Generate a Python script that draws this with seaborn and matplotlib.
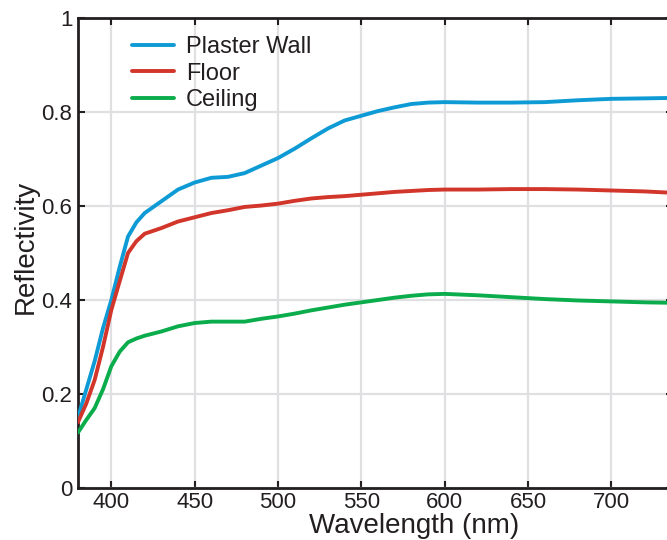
import numpy as np
import pandas as pd
import matplotlib
matplotlib.use("Agg")
import matplotlib.pyplot as plt
import seaborn as sns
from matplotlib.lines import Line2D

wavelength = [380, 385, 390, 395, 400, 405, 410, 415, 420, 430, 440, 450, 460, 470,
              480, 490, 500, 510, 520, 530, 540, 550, 560, 570, 580, 590, 600, 620,
              640, 660, 680, 700, 720, 737]
plaster_wall = [0.150, 0.210, 0.270, 0.340, 0.400, 0.470, 0.535, 0.565, 0.585, 0.610,
                0.635, 0.650, 0.660, 0.662, 0.670, 0.686, 0.702, 0.722, 0.744, 0.765,
                0.782, 0.792, 0.802, 0.810, 0.817, 0.820, 0.821, 0.820, 0.820, 0.821,
                0.825, 0.828, 0.829, 0.830]
floor = [0.140, 0.180, 0.230, 0.300, 0.379, 0.440, 0.500, 0.525, 0.541, 0.553,
         0.567, 0.576, 0.585, 0.591, 0.598, 0.601, 0.605, 0.611, 0.616, 0.619,
         0.621, 0.624, 0.627, 0.630, 0.632, 0.634, 0.635, 0.635, 0.636, 0.636,
         0.635, 0.633, 0.631, 0.628]
ceiling = [0.118, 0.145, 0.170, 0.210, 0.259, 0.290, 0.310, 0.318, 0.324, 0.333,
           0.344, 0.351, 0.354, 0.354, 0.354, 0.360, 0.365, 0.371, 0.378, 0.384,
           0.390, 0.395, 0.400, 0.405, 0.409, 0.412, 0.413, 0.410, 0.406, 0.402,
           0.399, 0.397, 0.395, 0.394]
series_names = ["Plaster Wall", "Floor", "Ceiling"]
colors = ["#0e9bd5", "#d2352a", "#0aac4c"]
x_ticks = [400, 450, 500, 550, 600, 650, 700]
y_ticks = [0, 0.2, 0.4, 0.6, 0.8, 1]
y_tick_labels = ["0", "0.2", "0.4", "0.6", "0.8", "1"]

df = pd.DataFrame({
    "Wavelength": wavelength * 3,
    "Reflectivity": plaster_wall + floor + ceiling,
    "Surface": [series_names[0]] * len(wavelength) + [series_names[1]] * len(wavelength)
               + [series_names[2]] * len(wavelength),
})

sns.set_theme(style="white")
plt.rcParams["font.family"] = ["Liberation Sans", "DejaVu Sans"]
text_color = "#231f20"

fig = plt.figure(figsize=(6.67, 5.40), dpi=100)
W, H = 667, 540
left, right, top, bottom = 78, 673, 18, 488
ax = fig.add_axes([left / W, 1 - bottom / H, (right - left) / W, (bottom - top) / H])

sns.lineplot(data=df, x="Wavelength", y="Reflectivity", hue="Surface",
             palette=dict(zip(series_names, colors)), linewidth=2.8,
             ax=ax, legend=False, zorder=3)

ax.set_xlim(380, 737)
ax.set_ylim(0, 1)
ax.set_xticks(x_ticks)
ax.set_yticks(y_ticks)
ax.set_yticklabels(y_tick_labels)
ax.grid(True, color="#e0e0e2", linewidth=1.6, zorder=0)
ax.set_axisbelow(True)

for side in ["left", "right", "top", "bottom"]:
    ax.spines[side].set_color(text_color)
    ax.spines[side].set_linewidth(2.0)
    ax.spines[side].set_visible(True)

ax.tick_params(axis="both", which="both", direction="in", length=5, width=1.5,
               color=text_color, labelcolor=text_color, labelsize=16,
               top=True, right=True, bottom=True, left=True)
ax.tick_params(axis="x", pad=3)
ax.tick_params(axis="y", pad=4)

ax.set_xlabel("Wavelength (nm)", fontsize=20, color=text_color)
ax.set_ylabel("Reflectivity", fontsize=20, color=text_color)
ax.xaxis.set_label_coords((414 - left) / (right - left), -0.053)
ax.yaxis.set_label_coords((39 - left) / (right - left), 0.512)

handles = [Line2D([0], [0], color=c, linewidth=2.8, solid_capstyle="round") for c in colors]
leg = ax.legend(handles, series_names, loc="upper left",
                bbox_to_anchor=((134 - left) / (right - left) - 0.012, 0.972),
                frameon=False, fontsize=17, handlelength=1.8, handletextpad=0.5,
                labelspacing=0.2, borderpad=0.2, borderaxespad=0)
for t in leg.get_texts():
    t.set_color(text_color)

fig.savefig("out.png", dpi=100)
